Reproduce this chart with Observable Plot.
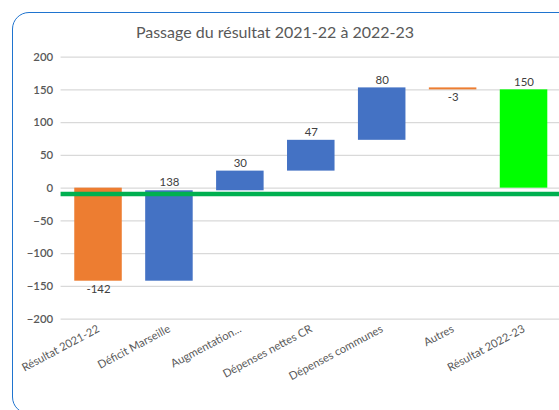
<!DOCTYPE html>
<html>
<head>
<meta charset="utf-8">
<script src="https://cdn.jsdelivr.net/npm/d3@7"></script>
<script src="https://cdn.jsdelivr.net/npm/@observablehq/plot@0.6"></script>
<style>
  html, body { margin: 0; padding: 0; background: #fff; }
  body { width: 559px; height: 410px; overflow: hidden; position: relative; font-family: Lato, "Open Sans", sans-serif; }
  #frame { position: absolute; left: 12px; top: 12px; width: 620px; height: 402px; border: 1.5px solid #1f74cf; border-radius: 17px; box-sizing: border-box; }
  #title { position: absolute; left: 0; width: 550px; top: 22px; text-align: center; font-size: 16px; color: #595959; }
  #chart { position: absolute; left: 0; top: 0; }
</style>
</head>
<body>
<div id="frame"></div>
<div id="chart"></div>
<div id="title">Passage du résultat 2021-22 à 2022-23</div>
<script>
const categories = ["Résultat 2021-22", "Déficit Marseille", "Augmentation...", "Dépenses nettes CR", "Dépenses communes", "Autres", "Résultat 2022-23"];
const values = [-142, 138, 30, 47, 80, -3, 150];
const kinds = ["start", "delta", "delta", "delta", "delta", "delta", "end"];
const yTicks = [-200, -150, -100, -50, 0, 50, 100, 150, 200];
const referenceLine = [-9];

let run = 0;
const rows = categories.map((c, i) => {
  let y1, y2;
  if (kinds[i] === "delta") { y1 = run; y2 = run + values[i]; run = y2; }
  else { y1 = 0; y2 = values[i]; run = values[i]; }
  const color = kinds[i] === "end" ? "#00ff00" : (values[i] < 0 ? "#ed7d31" : "#4472c4");
  return {cat: c, y1, y2, value: values[i], color,
          top: Math.max(y1, y2), bottom: Math.min(y1, y2)};
});

const chart = Plot.plot({
  width: 563,
  height: 410,
  marginLeft: 61,
  marginRight: 0,
  marginTop: 57,
  marginBottom: 89,
  style: {fontFamily: "Lato, 'Open Sans', sans-serif", fontSize: "11px", color: "#595959", background: "transparent"},
  x: {domain: categories, range: [63, 563], paddingInner: 0.33, paddingOuter: 0.165, round: false, label: null},
  y: {domain: [-200, 200], label: null},
  marks: [
    Plot.gridY(yTicks, {stroke: "#d9d9d9", strokeOpacity: 1, strokeWidth: 1.3}),
    Plot.ruleX([0], {x: () => null, frameAnchor: "left", stroke: "#d9d9d9", strokeWidth: 1.3}),
    Plot.axisY(yTicks, {tickSize: 0, tickPadding: 8, fill: "#595959", fontSize: 11.5, fontWeight: 600}),
    Plot.axisX({tickSize: 0, tickRotate: -28, tickPadding: 9, fill: "#595959", fontSize: 11.3}),
    Plot.barY(rows, {x: "cat", y1: "y1", y2: "y2", fill: d => d.color, insetTop: 0, insetBottom: 0}),
    Plot.ruleY(referenceLine, {stroke: "#00b050", strokeWidth: 4.5}),
    Plot.text(rows.filter(d => d.value >= 0), {x: "cat", y: "top", text: d => String(d.value), dy: -8, fill: "#404040", fontSize: 11.5}),
    Plot.text(rows.filter(d => d.value < 0), {x: "cat", y: "bottom", text: d => String(d.value), dy: 8, fill: "#404040", fontSize: 11.5})
  ]
});
document.getElementById("chart").appendChild(chart);
</script>
</body>
</html>
